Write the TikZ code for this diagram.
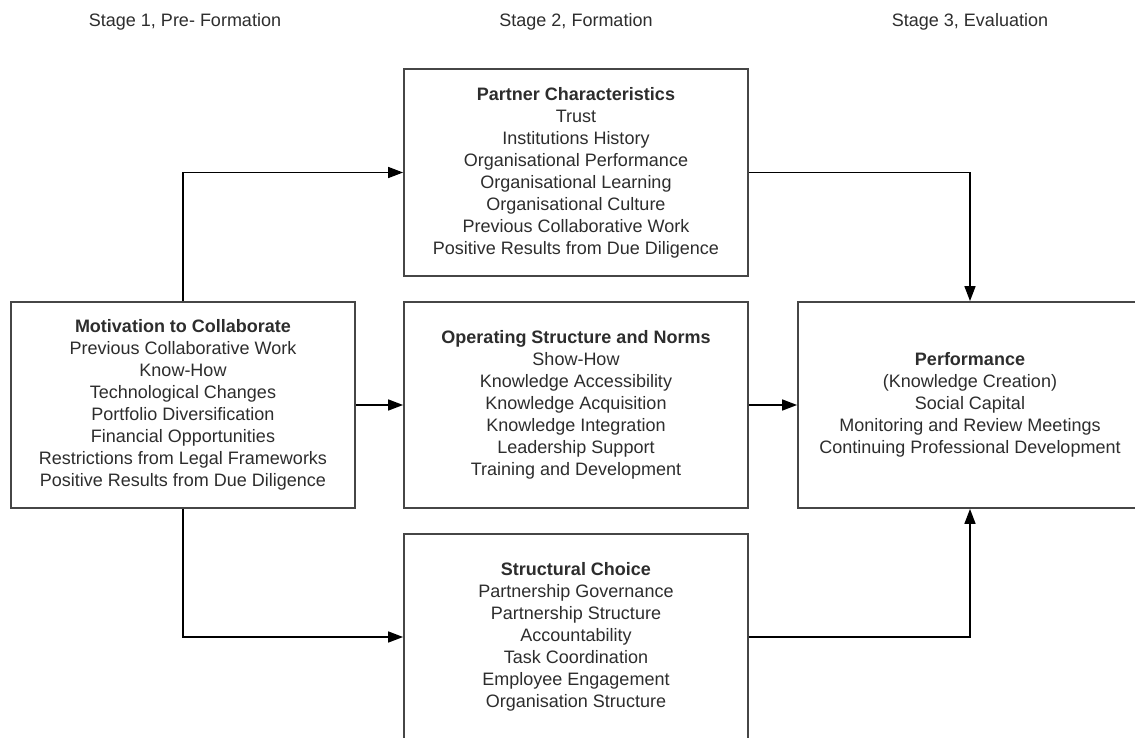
\documentclass[tikz,border=0pt]{standalone}
\usepackage{fontspec}
\setmainfont{Liberation Sans}
\usetikzlibrary{arrows.meta}
\definecolor{inkgray}{RGB}{45,45,45}
\definecolor{edgegray}{RGB}{70,70,70}
\begin{document}
\begin{tikzpicture}[x=1pt,y=-1pt,
  box/.style={draw=edgegray,line width=1.8pt,fill=white,rectangle,
    minimum width=344pt,align=center,text=inkgray,inner sep=0pt,
    font=\fontsize{18}{22}\selectfont},
  stage/.style={text=inkgray,font=\fontsize{18}{22}\selectfont,inner sep=0pt},
  link/.style={draw=black,line width=1.5pt,-{Triangle[length=15pt,width=11pt]}}]
\useasboundingbox (0,0) rectangle (1135,738);
\clip (0,0) rectangle (1135,738);
\fill[white] (0,0) rectangle (1135,738);

% stage headings
\node[stage] (s1) at (185,22) {Stage 1, Pre- Formation};
\node[stage] (s2) at (576,22) {Stage 2, Formation};
\node[stage] (s3) at (970,22) {Stage 3, Evaluation};

% boxes
\node[box,minimum height=206pt] (mot) at (183,405) {\textbf{Motivation to Collaborate}\\Previous Collaborative Work\\Know-How\\Technological Changes\\Portfolio Diversification\\Financial Opportunities\\Restrictions from Legal Frameworks\\Positive Results from Due Diligence};

\node[box,minimum height=207pt] (part) at (576,172.5) {\textbf{Partner Characteristics}\\Trust\\Institutions History\\Organisational Performance\\Organisational Learning\\Organisational Culture\\Previous Collaborative Work\\Positive Results from Due Diligence};

\node[box,minimum height=206pt] (oper) at (576,405) {\textbf{Operating Structure and Norms}\\Show-How\\Knowledge Accessibility\\Knowledge Acquisition\\Knowledge Integration\\Leadership Support\\Training and Development};

\node[box,minimum height=206pt] (struct) at (576,637) {\textbf{Structural Choice}\\Partnership Governance\\Partnership Structure\\Accountability\\Task Coordination\\Employee Engagement\\Organisation Structure};

\node[box,minimum height=206pt] (perf) at (970,405) {\textbf{Performance}\\(Knowledge Creation)\\Social Capital\\Monitoring and Review Meetings\\Continuing Professional Development};

% connectors
\draw[link] (mot.north) |- (part.west);
\draw[link] (mot.east) -- (oper.west);
\draw[link] (mot.south) |- (struct.west);
\draw[link] (part.east) -| (perf.north);
\draw[link] (oper.east) -- (perf.west);
\draw[link] (struct.east) -| (perf.south);
\end{tikzpicture}
\end{document}
